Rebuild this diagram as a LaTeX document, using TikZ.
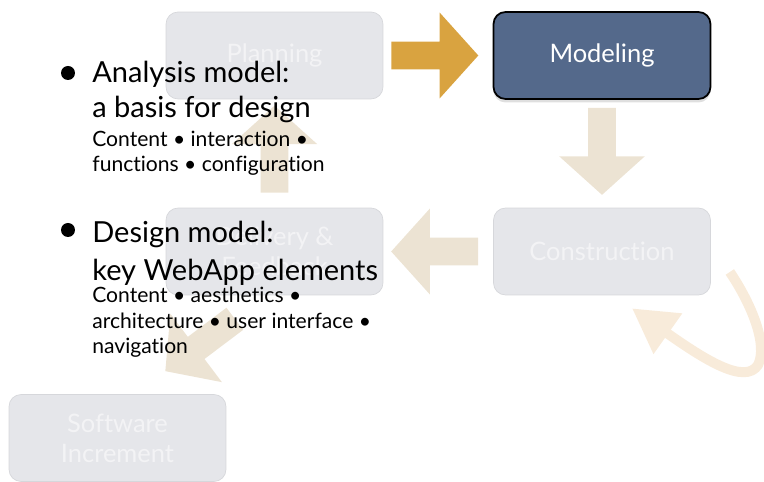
\documentclass[tikz,border=0pt]{standalone}
\usepackage{fontspec}
\setmainfont{Lato}[Ligatures=NoCommon]
\usetikzlibrary{shapes.arrows,arrows.meta,calc,shadows}
\definecolor{boxfill}{RGB}{229,230,234}
\definecolor{boxline}{RGB}{214,215,219}
\definecolor{boxtext}{RGB}{243,243,245}
\definecolor{modelblue}{RGB}{84,105,139}
\definecolor{goldarrow}{RGB}{217,163,64}
\definecolor{beigearrow}{RGB}{236,227,211}
\definecolor{looppeach}{RGB}{248,235,218}
\begin{document}
\begin{tikzpicture}[line join=round,x=0.02cm,y=-0.02cm]
	\tikzset{stage/.style={draw=boxline,fill=boxfill,rounded corners=0.24cm,minimum width=4.34cm,minimum height=1.74cm,text=boxtext,align=center,font=\fontsize{14.5}{17}\selectfont},
		active/.style={fill=modelblue,draw=black,line width=1pt,text=white,drop shadow={opacity=0.25,shadow xshift=0pt,shadow yshift=-2pt}},
		blockarrow/.style={single arrow,draw=none,inner xsep=0pt,inner ysep=0.27cm,outer sep=0pt,minimum height=1.74cm,single arrow head extend=0.58cm,single arrow tip angle=96},
		big/.style={anchor=base west,inner sep=0pt,font=\fontsize{16.5}{19}\selectfont},
		small/.style={anchor=base west,inner sep=0pt,font=\fontsize{12}{14}\selectfont},
		dot/.style={circle,fill=black,inner sep=0pt,minimum size=0.28cm}}
	\useasboundingbox (0,0) rectangle (764,482);
	\node[stage] (plan) at (274.5,55.5) {Planning};
	\node[stage,active] (model) at (602,55.5) {Modeling};
	\node[stage] (constr) at (602,251.5) {Construction};
	\node[stage] (deliv) at (274.5,251.5) {Delivery \&\\Feedback};
	\node[stage] (soft) at (117.5,438) {Software\\Increment};
	\node[blockarrow,fill=goldarrow,anchor=tail] (toModel) at ($(plan.east)+(8,0)$) {};
	\node[blockarrow,fill=beigearrow,rotate=-90,anchor=tail] (toConstr) at ($(model.south)+(0,8)$) {};
	\node[blockarrow,fill=beigearrow,rotate=180,anchor=tail] (toDeliv) at ($(constr.west)+(-15,0)$) {};
	\node[blockarrow,fill=beigearrow,rotate=90,anchor=tail] (toPlan) at ($(deliv.north)+(0,-15)$) {};
	\node[blockarrow,fill=beigearrow,rotate=-143,anchor=tip] (toSoft) at ($(soft.north east)+(-61,-23)$) {};
	\coordinate (loopstart) at ($(constr.east)+(19,20.5)$);
	\coordinate (looptip) at ($(constr.south)+(30,13)$);
	\draw[looppeach,line width=0.2cm,line cap=butt,-{Triangle[length=0.88cm,width=0.94cm]}] (loopstart) .. controls (752,305) and (768,345) .. (758,365) .. controls (745,385) and (705,360) .. (looptip);
	\node[dot] (b1) at (68,73) {};
	\node[big] (t1) at (92,83) {Analysis model:};
	\node[big] (t2) at (92,118) {a basis for design};
	\node[small] (t3) at (92,147) {Content • interaction •};
	\node[small] (t4) at (92,172) {functions • configuration};
	\node[dot] (b2) at (68,230) {};
	\node[big] (t5) at (92,243) {Design model:};
	\node[big] (t6) at (92,281) {key WebApp elements};
	\node[small] (t7) at (92,303) {Content • aesthetics •};
	\node[small] (t8) at (92,329) {architecture • user interface •};
	\node[small] (t9) at (92,354) {navigation};
\end{tikzpicture}
\end{document}
